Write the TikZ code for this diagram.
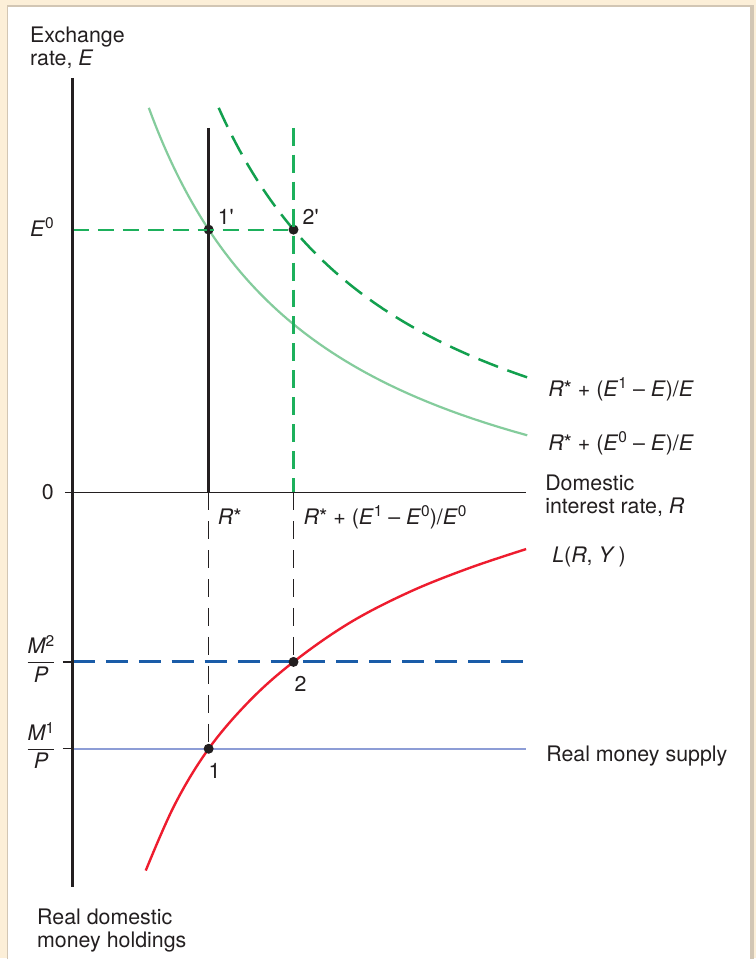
\documentclass[tikz,border=0pt]{standalone}
\usepackage{amsmath}
\usepackage{fontspec}
\setmainfont{TeX Gyre Heros}
\newfontfamily\plainfont{TeX Gyre Heros}
\newcommand{\supx}[1]{\raisebox{0.36em}{\fontsize{15.5}{15.5}\selectfont #1}}
\definecolor{beige}{HTML}{FCEFD8}
\definecolor{tanline}{HTML}{D2C6B4}
\definecolor{lgreen}{HTML}{84CC9C}
\definecolor{dgreen}{HTML}{12A04E}
\definecolor{mgreen}{HTML}{1DB05C}
\definecolor{myred}{HTML}{EE1C2E}
\definecolor{dblue}{HTML}{1A5CA8}
\definecolor{lblue}{HTML}{8D9DD6}
\definecolor{ink}{HTML}{231F20}
\tikzset{
  lab/.style={font=\fontsize{21.4}{23}\selectfont, text=ink, inner sep=0pt},
  dotnode/.style={circle, fill=ink, inner sep=0pt, minimum size=10pt},
  axisline/.style={ink, line width=3pt},
  thinline/.style={ink, line width=1.3pt},
  guide/.style={ink, line width=1.1pt, dash pattern=on 18pt off 11pt},
  greenguide/.style={mgreen, line width=1.9pt, dash pattern=on 16pt off 9pt},
  greenvert/.style={mgreen, line width=2.1pt, dash pattern=on 18pt off 9pt},
}
\begin{document}
\begin{tikzpicture}[x=1pt,y=-1pt]
% frame
\fill[beige] (0,0) rectangle (757,960);
\fill[white] (8,6) rectangle (751,961);
\draw[tanline, line width=1.2pt] (7.6,961) -- (7.6,6) -- (751,6);
\fill[tanline] (751,5.4) rectangle (755,961);
\useasboundingbox (0,0) rectangle (757,960);

% coordinates
\coordinate (Etop) at (73,78);
\coordinate (Ebot) at (73,888);
\coordinate (Rleft) at (65,493);
\coordinate (Rright) at (527,493);
\coordinate (E0left) at (73,230);
\coordinate (Rstop) at (209,128);
\coordinate (Rsaxis) at (209,493);
\coordinate (Gtop) at (294,128);
\coordinate (Gaxis) at (294,493);
\coordinate (M2tick) at (63,663);
\coordinate (M2left) at (73,663);
\coordinate (M2right) at (527,663);
\coordinate (M1tick) at (63,750);
\coordinate (M1left) at (73,750);
\coordinate (M1right) at (527,750);

% money supply lines
\draw[lblue, line width=2.5pt] (M1left) -- (M1right);
\draw[dblue, line width=3pt, dash pattern=on 22pt off 11pt] (M2left) -- (M2right);
\draw[thinline] (M1tick) -- (M1left);
\draw[thinline] (M2tick) -- (M2left);

% red L(R,Y)
\draw[myred, line width=2.4pt] plot[smooth, tension=0.6] coordinates
 {(146,872) (175,806) (209,750) (250,702) (294,663) (350,624) (410,593) (470,569) (527,550)};

% curves upper
\draw[lgreen, line width=2.2pt] plot[domain=57:385, samples=80]
 ({-27.4+847.8/(0.01*\x+0.9565)}, {493-\x});
\draw[dgreen, line width=2.5pt, dash pattern=on 21pt off 10pt] plot[domain=385:115, samples=80]
 ({22.4+868.29/(0.01*\x+0.5674)}, {493-\x});

% points
\node[dotnode] (p1p) at (209,230) {};
\node[dotnode] (p2p) at (294,230) {};
\node[dotnode] (p2) at (294,663) {};
\node[dotnode] (p1) at (209,750) {};

% guides
\draw[greenguide] (E0left) -- (p2p);
\draw[greenvert] (Gtop) -- (Gaxis);
\draw[ink, line width=2.5pt] (Rstop) -- (Rsaxis);
\draw[guide] (Rsaxis) -- (p1);
\draw[guide] (Gaxis) -- (p2);

% axes
\draw[thinline] (Rleft) -- (Rright);
\draw[axisline] (Etop) -- (Ebot);

% labels
\node[lab, anchor=north west, align=left] (ylab) at (30,27) {Exchange\\rate, \textit{E}};
\node[lab, anchor=base west] (e0) at (30,237) {\textit{E}\supx{0}};
\node[lab, anchor=base] (zero) at (48,500) {0};
\node[lab, anchor=base west] (l1p) at (218,225) {\plainfont 1'};
\node[lab, anchor=base west] (l2p) at (303,225) {\plainfont 2'};
\node[lab, anchor=base west] (c1) at (549,397) {\textit{R}* + (\textit{E}\supx{1} – \textit{E})/\textit{E}};
\node[lab, anchor=base west] (c0) at (549,451) {\textit{R}* + (\textit{E}\supx{0} – \textit{E})/\textit{E}};
\node[lab, anchor=north west, align=left] (xlab) at (546,476) {Domestic\\interest rate, \textit{R}};
\node[lab, anchor=base west] (rs) at (218,525) {\textit{R}*};
\node[lab, anchor=base west] (rs2) at (304,525) {\textit{R}* + (\textit{E}\supx{1} – \textit{E}\supx{0})/\textit{E}\supx{0}};
\node[lab, anchor=base west] (lry) at (553,563) {\textit{L}(\textit{R}, \textit{Y}\,)};
\node[lab, anchor=base west] (rms) at (547,763) {Real money supply};
\node[lab, anchor=base] (l2) at (301,693) {2};
\node[lab, anchor=base] (l1) at (215,780) {1};
\node[lab, anchor=base] (m2) at (41,669) {$\dfrac{\textit{M}\supx{2}}{\textit{P}}$};
\node[lab, anchor=base] (m1) at (41,756) {$\dfrac{\textit{M}\supx{1}}{\textit{P}}$};
\node[lab, anchor=north west, align=left] (blab) at (37,910) {Real domestic\\money holdings};
\end{tikzpicture}
\end{document}
